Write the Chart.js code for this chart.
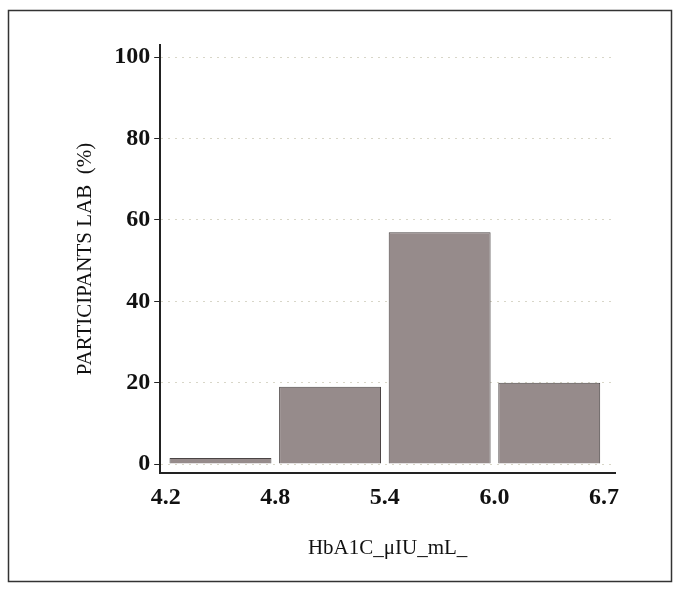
<!DOCTYPE html>
<html>
<head>
<meta charset="utf-8">
<script src="https://cdn.jsdelivr.net/npm/chart.js@4.4.1/dist/chart.umd.min.js"></script>
<style>
  html, body { margin: 0; padding: 0; background: #fff; }
  #wrap { position: relative; width: 677px; height: 589px; }
</style>
</head>
<body>
<div id="wrap"><canvas id="hist"></canvas></div>
<script>
// bin edges (x tick labels) and share of participants per bin
const binEdges = ['4.2', '4.8', '5.4', '6.0', '6.7'];
const binShare = [1.5, 19, 57, 20];
const yTicks = [0, 20, 40, 60, 80, 100];

// bars sit between edge positions 0..4
const barPoints = binShare.map((v, i) => ({ x: i + 0.5, y: v }));

// white background + scanned-page frame
const framePlugin = {
  id: 'frame',
  beforeDraw(chart) {
    const ctx = chart.ctx;
    ctx.save();
    ctx.fillStyle = '#fff';
    ctx.fillRect(0, 0, chart.width, chart.height);
    ctx.strokeStyle = '#333';
    ctx.lineWidth = 1.5;
    ctx.strokeRect(8.5, 10.5, 663, 571);
    ctx.restore();
  }
};

new Chart(document.getElementById('hist'), {
  type: 'bar',
  data: {
    datasets: [{
      data: barPoints,
      backgroundColor: '#968b8b',
      borderColor: '#4a4444',
      borderWidth: 1,
      barPercentage: 0.93,
      categoryPercentage: 1
    }]
  },
  options: {
    responsive: true,
    maintainAspectRatio: false,
    animation: false,
    layout: { padding: { left: 69, right: 62, top: 45, bottom: 24 } },
    plugins: {
      legend: { display: false },
      tooltip: { enabled: false }
    },
    scales: {
      x: {
        type: 'linear',
        offset: false,
        min: -0.05,
        max: 4.1,
        afterBuildTicks: axis => { axis.ticks = binEdges.map((_, i) => ({ value: i })); },
        grid: { display: false, drawTicks: true, tickLength: 6 },
        border: { color: '#222', width: 2 },
        ticks: {
          color: '#111',
          padding: 4,
          font: { family: 'Liberation Serif', size: 24, weight: 'bold' },
          callback: v => binEdges[v]
        },
        title: {
          display: true,
          text: 'HbA1C_μIU_mL_',
          color: '#111',
          padding: { top: 20 },
          font: { family: 'Liberation Serif', size: 21 }
        }
      },
      y: {
        min: -2.2,
        max: 103,
        afterBuildTicks: axis => { axis.ticks = yTicks.map(v => ({ value: v })); },
        grid: {
          color: '#d8d6c8',
          lineWidth: 1,
          tickLength: 6,
          tickColor: '#222'
        },
        border: { color: '#222', width: 2, dash: [2, 5] },
        ticks: {
          color: '#111',
          padding: 4,
          font: { family: 'Liberation Serif', size: 24, weight: 'bold' }
        },
        title: {
          display: true,
          text: 'PARTICIPANTS LAB  (%)',
          color: '#111',
          padding: { bottom: 12 },
          font: { family: 'Liberation Serif', size: 21 }
        }
      }
    }
  },
  plugins: [framePlugin]
});
</script>
</body>
</html>
